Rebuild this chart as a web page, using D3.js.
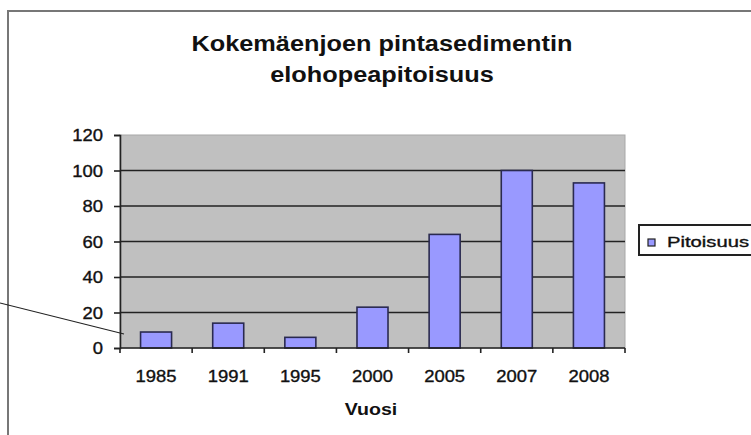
<!DOCTYPE html>
<html><head><meta charset="utf-8">
<script src="https://cdn.jsdelivr.net/npm/d3@7"></script>
<style>body{margin:0;background:#fff}svg{display:block}text{font-family:"Liberation Sans",Arial,sans-serif}</style>
</head><body><svg id="c" width="751" height="435"></svg>
<script>
const categories = ["1985","1991","1995","2000","2005","2007","2008"];
const values = [9, 14, 6, 23, 64, 100, 93];
const yTicks = [0,20,40,60,80,100,120];
const titleLines = ["Kokemäenjoen pintasedimentin","elohopeapitoisuus"];
const xTitle = "Vuosi";
const seriesName = "Pitoisuus";

const svg = d3.select("#c");
const W = 751, H = 435;
const m = {left:120, right:126, top:135, bottom:87};
const pw = W - m.left - m.right, ph = H - m.top - m.bottom;
const SX = 1.15; // horizontal text stretch seen in the reference

// outer frame
svg.append("line").attr("x1",8).attr("x2",8).attr("y1",11).attr("y2",H).attr("stroke","#777").attr("stroke-width",2);
svg.append("line").attr("x1",7).attr("x2",W).attr("y1",11).attr("y2",11).attr("stroke","#777").attr("stroke-width",2);

// title
svg.append("g").selectAll("text").data(titleLines).join("text")
  .attr("class","st").attr("x",382).attr("y",(d,i)=>51+i*31).attr("text-anchor","middle")
  .attr("font-size",22).attr("font-weight","bold").attr("fill","#111").text(d=>d);

const x = d3.scaleBand().domain(categories).range([m.left, m.left+pw]).paddingInner(0.57).paddingOuter(0.285);
const y = d3.scaleLinear().domain([0,120]).range([m.top+ph, m.top]);

// plot area
svg.append("rect").attr("x",m.left).attr("y",m.top).attr("width",pw).attr("height",ph)
  .attr("fill","#c0c0c0").attr("stroke","#a8a8a8").attr("stroke-width",1);

// gridlines
svg.append("g").selectAll("line").data(yTicks.filter(d=>d>0 && d<120)).join("line")
  .attr("x1",m.left).attr("x2",m.left+pw).attr("y1",d=>y(d)).attr("y2",d=>y(d))
  .attr("stroke","#222").attr("stroke-width",1.6);

// bars
svg.append("g").selectAll("rect").data(values).join("rect")
  .attr("x",(d,i)=>x(categories[i])).attr("width",x.bandwidth())
  .attr("y",d=>y(d)).attr("height",d=>y(0)-y(d))
  .attr("fill","#9999ff").attr("stroke","#2a2a50").attr("stroke-width",1.6);

// y axis
const yAxis = d3.axisLeft(y).tickValues(yTicks).tickSize(6).tickPadding(11);
const gy = svg.append("g").attr("transform",`translate(${m.left},0)`).call(yAxis);
gy.select(".domain").attr("stroke","#222").attr("stroke-width",1.6);
gy.selectAll(".tick line").attr("stroke","#222").attr("stroke-width",1.6);
gy.selectAll("text").attr("class","st rg").attr("font-size",16).attr("fill","#111")
  .attr("dy","0.36em").style("font-family","'Liberation Sans',Arial,sans-serif");

// x axis
const step = x.step();
const gx = svg.append("g").attr("transform",`translate(0,${m.top+ph})`);
gx.append("line").attr("x1",m.left).attr("x2",m.left+pw).attr("stroke","#222").attr("stroke-width",1.6);
gx.selectAll("line.t").data(d3.range(categories.length+1)).join("line").attr("class","t")
  .attr("x1",i=>m.left+i*step).attr("x2",i=>m.left+i*step).attr("y1",0).attr("y2",5)
  .attr("stroke","#222").attr("stroke-width",1.6);
gx.selectAll("text").data(categories).join("text").attr("class","st rg")
  .attr("x",d=>x(d)+x.bandwidth()/2).attr("y",34).attr("text-anchor","middle")
  .attr("font-size",16).attr("fill","#111").text(d=>d);

// x title
svg.append("text").attr("class","st").attr("x",371).attr("y",415).attr("text-anchor","middle")
  .attr("font-size",17).attr("font-weight","bold").attr("fill","#111").text(xTitle);

// legend
const lg = svg.append("g");
lg.append("rect").attr("x",639).attr("y",225).attr("width",130).attr("height",30)
  .attr("fill","#fff").attr("stroke","#222").attr("stroke-width",2);
lg.append("rect").attr("x",648).attr("y",239).attr("width",7).attr("height",7)
  .attr("fill","#9999ff").attr("stroke","#222").attr("stroke-width",1.2);
lg.append("text").attr("class","rg").attr("x",667).attr("y",247).attr("font-size",15).attr("fill","#111")
  .attr("textLength",82).attr("lengthAdjust","spacingAndGlyphs").text(seriesName);

// leader line
svg.append("line").attr("x1",0).attr("y1",303).attr("x2",124).attr("y2",334)
  .attr("stroke","#222").attr("stroke-width",1.2);

// apply horizontal stretch to texts
svg.selectAll("text.st").each(function(){
  const w = this.getComputedTextLength();
  d3.select(this).attr("textLength", w*SX).attr("lengthAdjust","spacingAndGlyphs");
});
// the reference's regular text renders heavy
svg.selectAll("text.rg").attr("stroke","#111").attr("stroke-width",0.35);
</script></body></html>
